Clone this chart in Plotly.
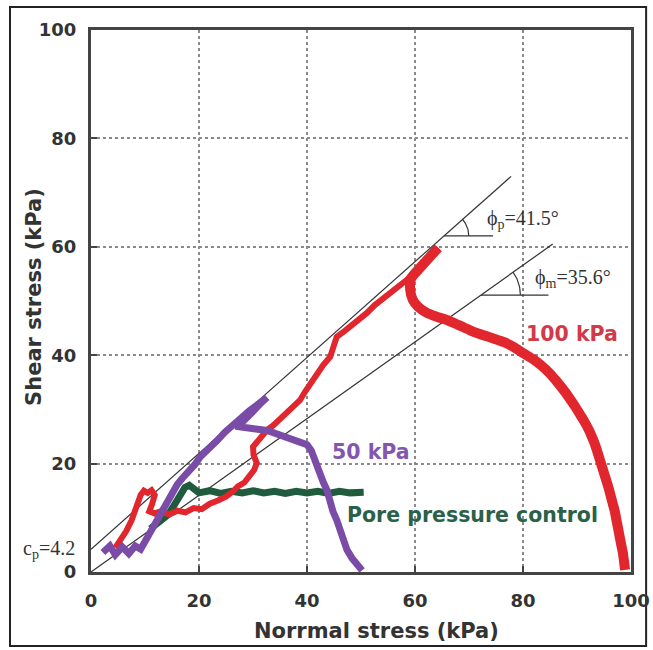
import math
import plotly.graph_objects as go

# ---------------- data ----------------
red_rise_x = [4.5, 5.5, 6.5, 7.5, 8.2, 8.8, 9.2, 9.8, 10.5, 11.2, 11.8, 11.3, 10.8, 11.8, 13.0, 14.5, 16.0, 17.5,
              19.0, 20.5, 22.0, 23.5, 25.0, 26.2, 27.2, 28.4, 29.4, 30.2, 30.7, 30.1, 30.0, 31.2, 32.6, 33.8, 35.0,
              36.3, 37.5, 38.7, 39.6, 40.6, 41.8, 43.0, 44.3, 45.0, 45.5, 47.0, 48.5, 50.0, 51.1, 52.5, 54.0, 55.4,
              57.0, 58.5, 60.0, 61.5, 63.0, 64.3]
red_rise_y = [4.5, 5.8, 7.5, 9.5, 11.5, 13.5, 14.2, 15.0, 14.6, 15.1, 14.2, 12.5, 11.2, 10.8, 11.2, 10.6, 11.3, 11.0,
              11.8, 11.6, 12.6, 13.2, 13.9, 14.8, 15.8, 16.5, 17.6, 18.8, 20.1, 21.6, 23.1, 24.5, 26.2, 27.1, 28.3,
              29.3, 30.6, 31.7, 33.2, 34.6, 36.7, 38.2, 39.7, 41.5, 43.4, 44.5, 45.6, 47.0, 47.8, 49.2, 50.3, 51.5,
              52.8, 53.9, 55.4, 56.8, 58.4, 59.8]
red_fall_x = [64.3, 62.8, 61.0, 59.3, 59.1, 59.6, 60.6, 62.2, 64.0, 65.9, 68.0, 70.2, 72.0, 74.5, 76.5, 78.3, 80.0,
              81.8, 83.5, 85.0, 86.3, 87.5, 88.6, 89.6, 90.6, 91.4, 92.1, 92.7, 93.3, 93.8, 94.3, 94.8, 95.3, 95.8,
              96.2, 96.6, 97.0, 97.3, 97.6, 97.9, 98.2, 98.5, 98.7, 98.9]
red_fall_y = [59.8, 58.2, 56.2, 54.2, 52.2, 50.2, 48.9, 47.8, 47.1, 46.5, 45.6, 44.6, 43.9, 43.1, 42.4, 41.5, 40.4,
              39.3, 38.0, 36.6, 35.1, 33.6, 32.1, 30.6, 29.0, 27.7, 26.4, 25.1, 23.6, 22.1, 20.5, 18.9, 17.3, 15.7,
              14.2, 12.7, 11.2, 9.6, 8.1, 6.5, 5.0, 3.5, 2.0, 0.4]

purple_x = [2.2, 3.5, 4.5, 5.8, 7.0, 8.2, 9.2, 10.2, 10.8, 11.8, 12.8, 13.8, 14.8, 16.0, 17.0, 18.0, 19.2, 20.2,
            21.8, 23.3, 24.8, 26.3, 27.8, 29.4, 31.0, 32.6, 31.5, 29.8, 28.2, 26.8, 28.5, 30.5, 32.6, 34.8, 36.9,
            38.6, 40.0, 40.8, 41.3, 41.8, 42.4, 43.0, 43.7, 44.2, 44.8, 45.5, 46.1, 46.8, 47.4, 48.3, 49.3, 50.2]
purple_y = [3.6, 4.8, 3.2, 4.6, 3.4, 4.8, 4.2, 6.0, 7.4, 9.2, 11.0, 12.6, 14.2, 16.2, 17.4, 18.4, 19.8, 21.2,
            22.6, 24.2, 25.8, 27.2, 28.4, 29.8, 31.0, 32.2, 31.2, 29.4, 27.8, 26.9, 26.8, 26.4, 26.1, 25.3, 24.5,
            24.2, 23.5, 22.4, 21.0, 19.4, 18.0, 16.6, 15.1, 13.0, 11.2, 9.6, 7.8, 5.8, 4.1, 2.6, 1.3, 0.3]

green_x = [11.0, 12.0, 12.6, 13.5, 14.3, 15.2, 16.0, 16.8, 17.4, 18.2, 19.0, 20.0, 22.0, 24.0, 26.0, 28.0, 30.0,
           32.0, 34.0, 36.0, 38.0, 40.0, 42.0, 44.0, 46.0, 48.0, 50.5]
green_y = [8.0, 8.8, 9.6, 10.2, 10.6, 12.0, 13.2, 14.4, 15.6, 16.0, 15.2, 14.6, 15.0, 14.5, 14.9, 14.6, 15.0,
           14.6, 14.9, 14.5, 14.9, 14.6, 14.9, 14.5, 14.9, 14.6, 14.7]

# failure envelopes
peak_line_x = [0, 77.8]
peak_line_y = [4.2, 73.0]
mobil_line_x = [0, 85.5]
mobil_line_y = [0, 60.5]

peak_angle = 41.5
mobil_angle = 35.6
cp_value = 4.2

x_ticks = [0, 20, 40, 60, 80, 100]
y_ticks = [0, 20, 40, 60, 80, 100]

RED = "#e1262d"
PURPLE = "#7a4ca8"
GREEN = "#1f5c3d"
AX = "#444444"

fig = go.Figure()

# envelopes
for lx, ly in [(peak_line_x, peak_line_y), (mobil_line_x, mobil_line_y)]:
    fig.add_trace(go.Scatter(x=lx, y=ly, mode="lines", line=dict(color="#333333", width=1.2),
                             hoverinfo="skip", showlegend=False))


def angle_marker(lx, ly, y_level, radius, length):
    slope = (ly[1] - ly[0]) / (lx[1] - lx[0])
    x0 = lx[0] + (y_level - ly[0]) / slope
    ang = math.atan(slope)
    fig.add_trace(go.Scatter(x=[x0, x0 + length], y=[y_level, y_level], mode="lines",
                             line=dict(color="#333333", width=1.2), hoverinfo="skip", showlegend=False))
    n = 20
    ax_ = [x0 + radius * math.cos(ang * i / n) for i in range(n + 1)]
    ay_ = [y_level + radius * math.sin(ang * i / n) for i in range(n + 1)]
    fig.add_trace(go.Scatter(x=ax_, y=ay_, mode="lines", line=dict(color="#333333", width=1.2),
                             hoverinfo="skip", showlegend=False))


angle_marker(peak_line_x, peak_line_y, 62.0, 4.6, 9.1)
angle_marker(mobil_line_x, mobil_line_y, 51.1, 7.3, 12.5)

# data curves
fig.add_trace(go.Scatter(x=green_x, y=green_y, mode="lines", line=dict(color=GREEN, width=7),
                         showlegend=False))
fig.add_trace(go.Scatter(x=red_rise_x, y=red_rise_y, mode="lines", line=dict(color=RED, width=6),
                         showlegend=False))
fig.add_trace(go.Scatter(x=red_fall_x, y=red_fall_y, mode="lines",
                         line=dict(color=RED, width=10, shape="spline", smoothing=0.7),
                         showlegend=False))
fig.add_trace(go.Scatter(x=purple_x, y=purple_y, mode="lines", line=dict(color=PURPLE, width=7),
                         showlegend=False))

axis_common = dict(range=[0, 100], showgrid=True, gridcolor="#8a8a8a", griddash="dot", gridwidth=1.5,
                   showline=True, linecolor=AX, linewidth=3, mirror=True, ticks="inside", ticklen=6,
                   tickcolor=AX, tickwidth=1.5, zeroline=False, automargin=False,
                   tickfont=dict(family="DejaVu Sans", size=18, color="#333333", weight="bold"))

fig.update_layout(
    width=653, height=650,
    margin=dict(l=91, r=22, t=30, b=78),
    plot_bgcolor="white", paper_bgcolor="white",
    xaxis=dict(**axis_common, tickvals=x_ticks, ticklabelstandoff=10),
    yaxis=dict(**axis_common, tickvals=y_ticks, ticklabelstandoff=8),
    showlegend=False,
)

title_font = dict(family="DejaVu Sans", size=21, color="#333333", weight="bold")
lab_font = lambda c: dict(family="DejaVu Sans", size=20.5, color=c, weight="bold")
serif = dict(family="Liberation Serif", size=20, color="#333333")

annotations = [
    dict(text="Norrmal stress (kPa)", xref="paper", yref="paper", x=0.528, y=-0.109, showarrow=False,
         font=title_font, xanchor="center", yanchor="middle"),
    dict(text="Shear stress (kPa)", xref="paper", yref="paper", x=-0.107, y=0.508, showarrow=False,
         font=title_font, textangle=-90, xanchor="center", yanchor="middle"),
    dict(text="100 kPa", x=89.1, y=43.9, showarrow=False, font=lab_font("#d23a48")),
    dict(text="50 kPa", x=51.9, y=22.1, showarrow=False, font=lab_font("#8556b0")),
    dict(text="Pore pressure control", x=70.6, y=10.5, showarrow=False, font=lab_font("#2b6049")),
    dict(text=f"ϕ<sub>p</sub>={peak_angle}°", x=73.0, y=65.1, showarrow=False, font=serif,
         xanchor="left", yanchor="middle"),
    dict(text=f"ϕ<sub>m</sub>={mobil_angle}°", x=81.9, y=54.2, showarrow=False, font=serif,
         xanchor="left", yanchor="middle"),
    dict(text=f"c<sub>p</sub>={cp_value}", xref="paper", yref="y", x=-0.026, y=cp_value, showarrow=False,
         font=serif, xanchor="right", yanchor="middle"),
]
fig.update_layout(annotations=annotations)

# outer frame around the whole figure
fig.add_shape(type="rect", xref="paper", yref="paper", x0=-0.15, x1=1.028, y0=-0.1365, y1=1.0424,
              line=dict(color="#222222", width=2), layer="below")

fig.write_html("out.html", config={"responsive": False},
               post_script="document.body.style.margin='0';document.body.style.overflow='hidden';")
